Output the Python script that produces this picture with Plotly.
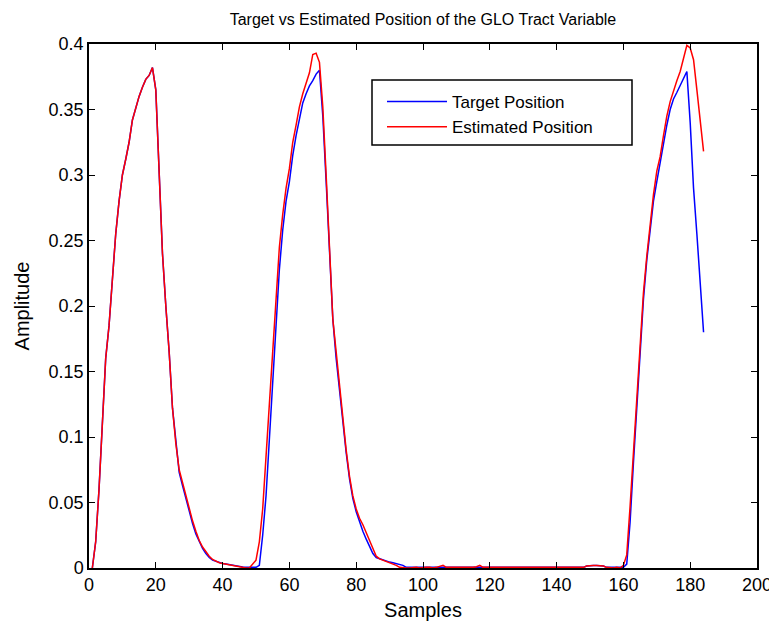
import plotly.graph_objects as go

# Data (sample index 1..184)
target_position = [
    0.000, 0.020, 0.060, 0.115, 0.160, 0.185, 0.220, 0.255, 0.280, 0.300,
    0.312, 0.325, 0.342, 0.352, 0.360, 0.367, 0.373, 0.376, 0.382, 0.365,
    0.300, 0.240, 0.200, 0.165, 0.122, 0.095, 0.073, 0.063, 0.053, 0.042,
    0.034, 0.026, 0.020, 0.015, 0.011, 0.008, 0.006, 0.005, 0.004, 0.0035,
    0.003, 0.0025, 0.002, 0.0015, 0.001, 0.0008, 0.0006, 0.0005, 0.0005, 0.0005,
    0.002, 0.025, 0.055, 0.100, 0.145, 0.190, 0.228, 0.258, 0.280, 0.295,
    0.315, 0.330, 0.343, 0.355, 0.362, 0.368, 0.372, 0.377, 0.380, 0.345,
    0.295, 0.240, 0.190, 0.160, 0.135, 0.108, 0.088, 0.068, 0.053, 0.043,
    0.035, 0.028, 0.022, 0.016, 0.011, 0.008, 0.007, 0.006, 0.005, 0.0045,
    0.004, 0.0035, 0.003, 0.002, 0.0005, 0.0005, 0.0005, 0.0005, 0.0005, 0.0005,
    0.0005, 0.0005, 0.0005, 0.0005, 0.0005, 0.0005, 0.0005, 0.0005, 0.0005, 0.0005,
    0.0005, 0.0005, 0.0005, 0.0005, 0.0005, 0.0005, 0.0005, 0.0005, 0.0005, 0.0005,
    0.0005, 0.0005, 0.0005, 0.0005, 0.0005, 0.0005, 0.0005, 0.0005, 0.0005, 0.0005,
    0.0005, 0.0005, 0.0005, 0.0005, 0.0005, 0.0005, 0.0005, 0.0005, 0.0005, 0.0005,
    0.0005, 0.0005, 0.0005, 0.0005, 0.0005, 0.0005, 0.0005, 0.0005, 0.0015, 0.002,
    0.002, 0.002, 0.002, 0.0015, 0.0005, 0.0005, 0.0005, 0.0005, 0.0005, 0.0005,
    0.003, 0.035, 0.080, 0.125, 0.170, 0.205, 0.235, 0.260, 0.280, 0.295,
    0.310, 0.325, 0.338, 0.350, 0.358, 0.363, 0.368, 0.374, 0.379, 0.340,
    0.290, 0.255, 0.218, 0.180,
]

estimated_position = [
    0.000, 0.020, 0.060, 0.115, 0.160, 0.185, 0.220, 0.255, 0.280, 0.300,
    0.312, 0.325, 0.342, 0.352, 0.360, 0.367, 0.373, 0.376, 0.382, 0.365,
    0.300, 0.240, 0.200, 0.165, 0.122, 0.095, 0.075, 0.065, 0.055, 0.044,
    0.036, 0.028, 0.021, 0.016, 0.012, 0.009, 0.0065, 0.005, 0.004, 0.0035,
    0.003, 0.0025, 0.002, 0.0015, 0.001, 0.0, 0.0, 0.0, 0.003, 0.006,
    0.020, 0.045, 0.085, 0.125, 0.170, 0.210, 0.245, 0.270, 0.290, 0.305,
    0.325, 0.338, 0.352, 0.362, 0.370, 0.378, 0.392, 0.393, 0.386, 0.352,
    0.300, 0.245, 0.190, 0.165, 0.140, 0.110, 0.090, 0.070, 0.055, 0.045,
    0.038, 0.033, 0.027, 0.021, 0.014, 0.009, 0.007, 0.006, 0.0055, 0.0045,
    0.0035, 0.002, 0.0005, 0.0, 0.0, 0.0, 0.0005, 0.0005, 0.0, 0.0005,
    0.0005, 0.0005, 0.0, 0.0005, 0.001, 0.002, 0.0005, 0.0005, 0.0005, 0.0005,
    0.0005, 0.0, 0.0, 0.0005, 0.0005, 0.001, 0.002, 0.0005, 0.0005, 0.0005,
    0.0005, 0.0005, 0.0, 0.0005, 0.0005, 0.0, 0.0005, 0.0005, 0.0, 0.0005,
    0.0005, 0.0005, 0.0005, 0.0005, 0.0005, 0.0005, 0.0005, 0.0005, 0.0005, 0.0005,
    0.0005, 0.0005, 0.0005, 0.0005, 0.0005, 0.0005, 0.0005, 0.0005, 0.0015, 0.002,
    0.002, 0.002, 0.002, 0.0015, 0.0005, 0.0, 0.0, 0.0005, 0.0, 0.002,
    0.010, 0.047, 0.090, 0.130, 0.174, 0.210, 0.238, 0.263, 0.285, 0.303,
    0.314, 0.330, 0.345, 0.356, 0.365, 0.372, 0.379, 0.390, 0.399, 0.397,
    0.388, 0.365, 0.340, 0.318,
]

samples_target = list(range(1, len(target_position) + 1))
samples_estimated = list(range(1, len(estimated_position) + 1))

x_ticks = [0, 20, 40, 60, 80, 100, 120, 140, 160, 180, 200]
y_ticks = [0, 0.05, 0.1, 0.15, 0.2, 0.25, 0.3, 0.35, 0.4]
y_tick_labels = ["0", "0.05", "0.1", "0.15", "0.2", "0.25", "0.3", "0.35", "0.4"]

# page body adds an 8px margin around the figure
OFF = 8
W, H = 777 - OFF, 621 - OFF
# plot area in screen pixels
L, R, T, B = 89, 757, 44, 568


def px(x):
    return (x - L) / (R - L)


def py(y):
    return (B - y) / (B - T)


fig = go.Figure()
fig.add_trace(go.Scatter(x=samples_target, y=target_position, mode="lines",
                         name="Target Position",
                         line=dict(color="#0000ff", width=1.5)))
fig.add_trace(go.Scatter(x=samples_estimated, y=estimated_position, mode="lines",
                         name="Estimated Position",
                         line=dict(color="#ff0000", width=1.5)))

font_main = "Arial, Liberation Sans, sans-serif"

fig.update_layout(
    width=W, height=H,
    margin=dict(l=L - OFF, r=W - (R - OFF), t=T - OFF, b=H - (B - OFF), pad=0,
                autoexpand=False),
    plot_bgcolor="white", paper_bgcolor="white",
    font=dict(family=font_main, size=17, color="black"),
    title=dict(text="Target vs Estimated Position of the GLO Tract Variable",
               x=(423 - OFF) / W, xanchor="center", xref="container",
               y=1 - (19 - OFF) / H, yanchor="middle", yref="container",
               font=dict(family=font_main, size=16, color="black")),
    xaxis=dict(range=[0, 200], tickvals=x_ticks, ticktext=[str(v) for v in x_ticks],
               ticks="inside", ticklen=6, tickcolor="black", tickwidth=1,
               showline=True, linecolor="black", linewidth=1.5, mirror="ticks",
               showgrid=False, zeroline=False, automargin=False,
               title=dict(text="Samples", standoff=9),
               tickfont=dict(size=18)),
    yaxis=dict(range=[0, 0.4], tickvals=y_ticks, ticktext=y_tick_labels,
               ticks="inside", ticklen=6, tickcolor="black", tickwidth=1,
               showline=True, linecolor="black", linewidth=1.5, mirror="ticks",
               showgrid=False, zeroline=False, automargin=False,
               title=dict(text="Amplitude", standoff=14),
               tickfont=dict(size=18)),
    legend=dict(x=px(382), y=py(84), xanchor="left", yanchor="top",
                bgcolor="rgba(0,0,0,0)", borderwidth=0,
                font=dict(size=17), itemwidth=60, tracegroupgap=0),
    showlegend=True,
)

# legend frame
fig.add_shape(type="rect", xref="paper", yref="paper",
              x0=px(372), x1=px(632), y0=py(145), y1=py(80),
              line=dict(color="black", width=1.5), fillcolor="white", layer="below")

fig.write_html("out.html")
